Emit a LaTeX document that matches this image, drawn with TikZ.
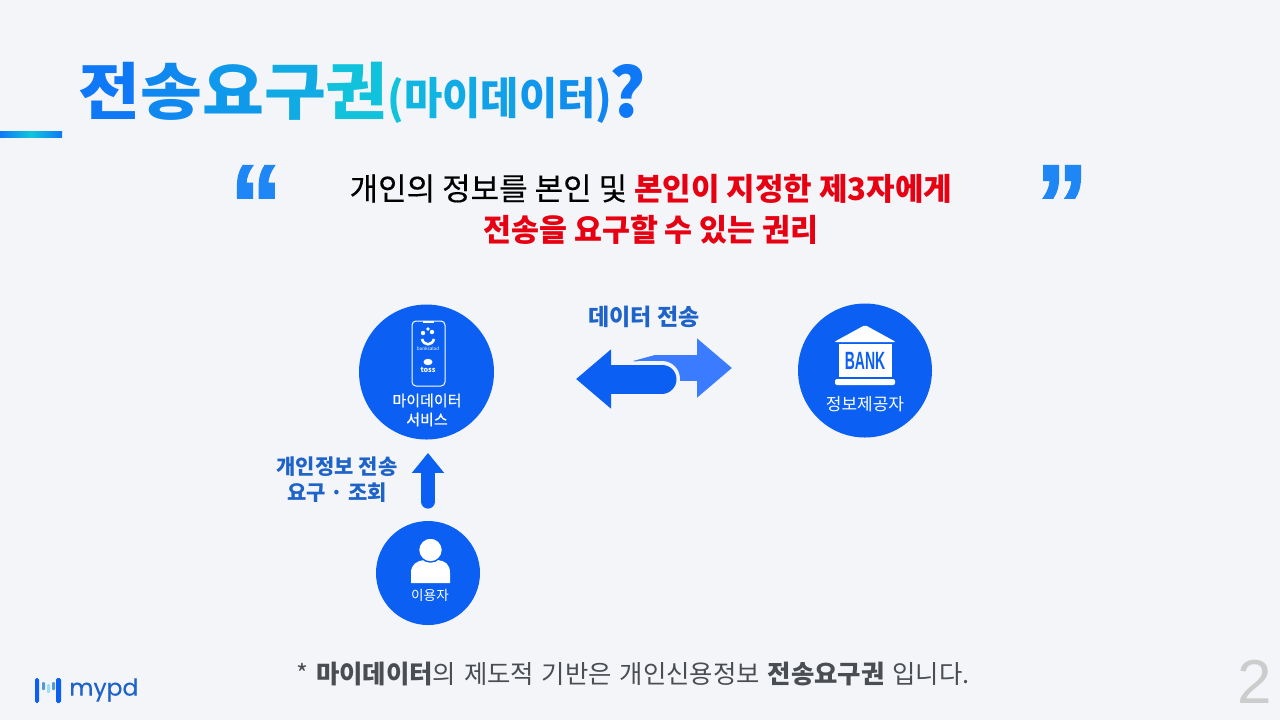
\documentclass[tikz,border=0pt]{standalone}
\usepackage{fontspec}
\setmainfont{Noto Sans CJK KR}
\newfontfamily\latinbold{Liberation Sans}
\newfontfamily\quotfont[FakeBold=1.5]{Liberation Sans}
\newfontfamily\logofont[FakeBold=0.3]{Poppins}
\newfontfamily\medfont[FakeBold=0.3]{Noto Sans CJK KR}
\newfontfamily\smfont[FakeBold=0.7]{Noto Sans CJK KR}
\usetikzlibrary{positioning,arrows.meta,shapes.geometric}

\definecolor{pagebg}{HTML}{F3F5F8}
\definecolor{nodeblue}{HTML}{0B60F3}
\definecolor{liteblue}{HTML}{3A7BFF}
\definecolor{labelblue}{HTML}{1D63C9}
\definecolor{quoteblue}{HTML}{1E87F5}
\definecolor{ttlblue}{HTML}{0F78F6}
\definecolor{ttlcyan}{HTML}{10C6DB}
\definecolor{keyred}{HTML}{E60012}
\definecolor{footgray}{HTML}{4A4D52}

\newcommand{\tc}[2]{\textcolor{ttlblue!#1!ttlcyan}{#2}}

\tikzset{
  circ/.style={circle,fill=nodeblue,inner sep=0pt},
  intext/.style={text=white,align=center,inner sep=0pt},
  lbl/.style={text=labelblue,font=\bfseries\fontsize{10.5}{13}\selectfont,align=center,inner sep=0pt},
  quot/.style={text=quoteblue,inner sep=0pt,font=\quotfont\bfseries\fontsize{52}{52}\selectfont},
  thickup/.style={nodeblue,line width=7pt,line cap=round,-{Triangle[width=15.5pt,length=10pt]}},
  databar/.style={line width=14.5pt,-{Triangle[width=28.5pt,length=17.5pt]}}
}

\begin{document}
\begin{tikzpicture}[x=0.5pt,y=-0.5pt]

  \fill[pagebg] (0,0) rectangle (1280,720);
  \useasboundingbox (0,0) rectangle (1280,720);

  % title
  \shade[left color=ttlblue,right color=ttlblue,middle color=ttlcyan] (0,131) rectangle (62,137);
  \node[anchor=base west,inner sep=0pt] (ttl) at (78,114) {\bfseries\fontsize{31}{31}\selectfont
    \scalebox{1.085}[1]{\tc{100}{전}\tc{78}{송}\tc{58}{요}\tc{35}{구}\tc{5}{권}}%
    \fontsize{22}{22}\selectfont\scalebox{0.945}[1]{\tc{5}{(}\tc{22}{마}\tc{35}{이}\tc{48}{데}\tc{60}{이}\tc{72}{터}\tc{85}{)}}%
    \kern-1.5pt\fontsize{34}{34}\selectfont\raisebox{-1.8pt}{\tc{100}{?}}};

  % quote
  \node[quot] (qopen) at (256,205) {\scalebox{1}[1.1]{“}};
  \node[quot] (qclose) at (1062,205) {\scalebox{1}[1.1]{”}};
  \node[align=center,inner sep=0pt,font=\fontsize{15.5}{20.5}\selectfont] (claim) at (651,209)
    {{\medfont 개인의 정보를 본인 및} \textcolor{keyred}{\bfseries 본인이 지정한 제3자에게}\\
     \scalebox{0.98}[1]{\textcolor{keyred}{\bfseries 전송을 요구할 수 있는 권리}}};

  % main nodes
  \node[circ,minimum size=67.5pt] (svc) at (426.5,372) {};
  \node[circ,minimum size=67pt] (info) at (865,370.5) {};
  \node[circ,minimum size=52pt] (user) at (428,573) {};

  % phone
  \draw[white,line width=0.5pt,rounded corners=2pt] (412,321) rectangle (445,386);
  \draw[white,line width=1pt] (423,322) -- (434,322);
  \fill[white] (423,333) circle (2.2) (432,332) circle (2.2) (428,329) circle (1.8);
  \draw[white,line width=1.3pt] (422,339) .. controls (424,346) and (432,346) .. (434,339);
  \node[text=white,inner sep=0pt,font=\fontsize{2.3}{3}\selectfont] (bsal) at (428,349) {banksalad};
  \node[ellipse,fill=white,minimum width=4.5pt,minimum height=3.2pt,inner sep=0pt] (tossmark) at (428,362) {};
  \node[text=white,inner sep=0pt,font=\bfseries\fontsize{3.6}{4}\selectfont] (tosstxt) at (428,370) {toss};
  \node[intext,font=\smfont\fontsize{7.5}{9.5}\selectfont] (svctxt) at (427,410) {마이데이터\\서비스};

  % bank
  \fill[white,rounded corners=1pt] (865,325) -- (896,342) -- (834,342) -- cycle;
  \fill[white] (839,344) rectangle (892,377);
  \fill[white,rounded corners=1pt] (835,379) rectangle (895,385);
  \node[text=nodeblue,inner sep=0pt,font=\latinbold\bfseries\fontsize{12.5}{13}\selectfont] (bank) at (865,361) {\scalebox{0.56}[1]{BANK}};
  \node[intext,font=\fontsize{8.5}{10}\selectfont] (infotxt) at (865,404) {정보제공자};

  % user
  \fill[white] (411,583) -- (411,573) .. controls (411,564) and (417,561) .. (424,560) -- (438,560) .. controls (445,561) and (450,564) .. (450,573) -- (450,583) -- cycle;
  \fill[white,draw=nodeblue,line width=0.7pt] (430.5,550) circle (12);
  \node[intext,font=\fontsize{6.8}{8}\selectfont] (usertxt) at (430,595) {이용자};

  % arrows
  \coordinate (rfrom) at (655,368);
  \coordinate (rto) at (732,368);
  \coordinate (lfrom) at (662,379);
  \coordinate (lto) at (576,379);
  \fill[liteblue] (633,361) -- (655,355) -- (655,366) -- cycle;
  \draw[databar,liteblue,line width=13pt] (rfrom) -- (rto);
  \draw[pagebg,line width=18pt,line cap=round] (lfrom) -- (640,379);
  \draw[databar,nodeblue,line cap=round] (lfrom) -- (lto);
  \draw[thickup,shorten <=9.5pt,shorten >=6.5pt] (user.north) -- (user.north |- svc.south);

  \node[lbl,font=\bfseries\fontsize{11.5}{13}\selectfont] (xfer) at (644,317) {데이터 전송};
  \node[lbl] (ask) at (337,480) {개인정보 전송\\요구 · 조회};

  % footer
  \node[text=footgray,inner sep=0pt,font=\fontsize{12.7}{15}\selectfont] (foot) at (633,674)
    {\spaceskip=3.9pt * \textbf{마이데이터}의 제도적 기반은 개인신용정보 \textbf{전송요구권} 입니다.};
  \fill[nodeblue,rounded corners=0.8pt] (35,678) rectangle (39,703);
  \fill[nodeblue,rounded corners=0.8pt] (56,678) rectangle (61,703);
  \fill[cyan!60!blue!70,rounded corners=0.5pt] (42,682) rectangle (45,690);
  \fill[cyan!40!white,rounded corners=0.5pt] (47,684) rectangle (50,693);
  \fill[cyan!60!blue!70,rounded corners=0.5pt] (52,682) rectangle (55,690);
  \node[anchor=west,text=labelblue,inner sep=0pt,font=\logofont\fontsize{11.7}{13}\selectfont] (logo) at (69,690) {mypd};
  \node[text=black!20,inner sep=0pt,font=\latinbold\fontsize{31}{31}\selectfont] (pagenum) at (1255,682) {2};

\end{tikzpicture}
\end{document}
